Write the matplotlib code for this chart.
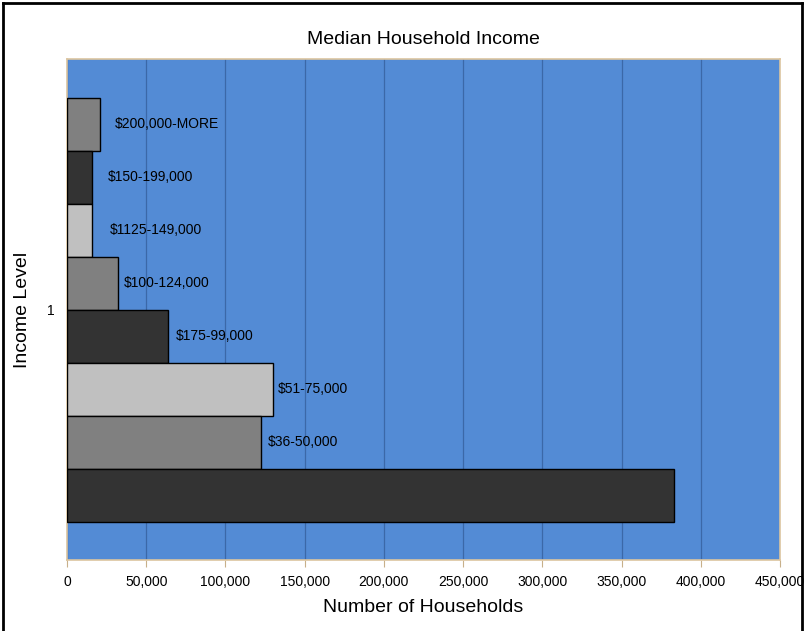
import matplotlib
matplotlib.use("Agg")
import matplotlib.pyplot as plt
from matplotlib.lines import Line2D
import numpy as np

plt.rcParams['font.family'] = ['Liberation Sans', 'DejaVu Sans']

# Data (top to bottom as displayed)
labels = ["$200,000-MORE", "$150-199,000", "$1125-149,000", "$100-124,000",
          "$175-99,000", "$51-75,000", "$36-50,000", ""]
values = [20900, 15600, 16000, 32400, 63600, 129900, 122400, 383100]
colors = ["#808080", "#333333", "#c0c0c0", "#808080",
          "#333333", "#c0c0c0", "#808080", "#333333"]
label_offsets_px = [15, 16, 17, 5, 8, 5, 7, 5]
xticks = np.arange(0, 450001, 50000)
category = ["1"]

fig = plt.figure(figsize=(8.06, 6.31), dpi=100)
ax = fig.add_axes([67/806, 1-560/631, 713/806, 501/631])
ax.set_facecolor("#538bd5")

n = len(values)
h = 53/501
ys = [(n - 1 - i - (n - 1)/2) * h for i in range(n)]
ax.barh(ys, values, height=h, color=colors, edgecolor="black", linewidth=1, zorder=3)

for y, v, lab, off in zip(ys, values, labels, label_offsets_px):
    if lab:
        ax.annotate(lab, (v, y), xytext=(off, 0), textcoords="offset pixels",
                    va="center", ha="left", fontsize=10, color="black", zorder=4)

ax.set_xlim(0, 450000)
ax.set_ylim(-0.5, 0.5)
ax.set_xticks(xticks)
ax.set_xticklabels([f"{t:,}" for t in xticks], fontsize=10)
ax.set_yticks([0])
ax.set_yticklabels(category, fontsize=10)
ax.tick_params(axis='x', length=5, color="#c8b08a", pad=6)
ax.tick_params(axis='y', length=0, pad=9)
ax.grid(axis='x', color="#3b68a8", linewidth=0.9, zorder=1)
ax.set_axisbelow(True)
for s in ax.spines.values():
    s.set_color("#dcc5a0")
    s.set_linewidth(1.2)

ax.set_title("Median Household Income", fontsize=14, pad=11)
ax.set_xlabel("Number of Households", fontsize=14)
ax.xaxis.set_label_coords(0.5, -(608 - 560) / 501)
ax.xaxis.label.set_va("center")
ax.set_ylabel("Income Level", fontsize=14)
ax.yaxis.set_label_coords((22 - 67) / 713, 0.5)
ax.yaxis.label.set_va("center")

# figure frame
W, H = 806, 631
for (x0, y0, x1, y1) in [(3, 3, 3, 640), (3, 3, 802, 3), (802, 3, 802, 640)]:
    fig.add_artist(Line2D([x0/W, x1/W], [1-y0/H, 1-y1/H], color="black", linewidth=2,
                          transform=fig.transFigure))

fig.savefig("out.png", dpi=100)
